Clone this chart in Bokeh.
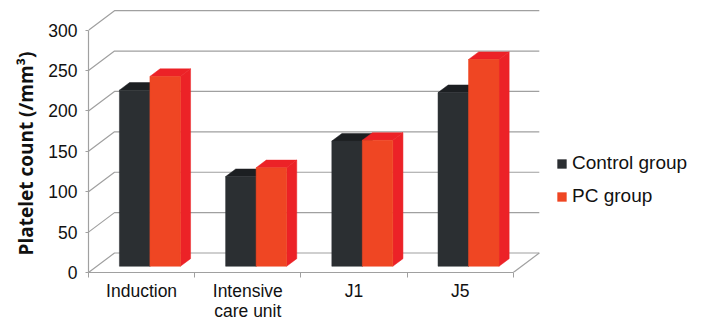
import math
from bokeh.plotting import figure
from bokeh.models import Range1d, FixedTicker, Legend, LegendItem, Title, LinearAxis
from bokeh.embed import file_html
from bokeh.resources import INLINE

categories = ["Induction", "Intensive\ncare unit", "J1", "J5"]
control = [218, 111, 155, 215]
pc = [235, 122, 156, 256]
y_ticks = [0, 50, 100, 150, 200, 250, 300]
series_names = ["Control group", "PC group"]
y_title = "Platelet count (/mm³)"

W, H = 703, 324
left, bottom = 88, 52
frame_w = W - left
frame_h = H - bottom
px_x = 106.2      # pixels per category
px_y = 0.8077     # pixels per value unit
x_start = -0.5
x_end = x_start + frame_w / px_x
y_end = frame_h / px_y

# 3D geometry (in data units)
DX = 26 / px_x
DY = 19.5 / px_y
f_front = 0.32
f_depth = 0.39
bw = 30.5 / px_x
bdx = f_depth * DX
bdy = f_depth * DY
ox = f_front * DX
oy = f_front * DY

p = figure(width=W, height=H, x_range=Range1d(x_start, x_end), y_range=Range1d(0, y_end),
           output_backend="svg", toolbar_location=None,
           min_border_left=left, min_border_right=0, min_border_top=0, min_border_bottom=bottom)
p.outline_line_color = None
p.xgrid.visible = False
p.ygrid.visible = False
p.background_fill_color = "white"
p.border_fill_color = "white"

grid_col = "#a0a0a0"
n = len(categories)
x_last = n - 0.5

# walls / gridlines
xs, ys = [], []
for v in y_ticks:
    xs.append([x_start, x_start + DX, x_last + DX])
    ys.append([v, v + DY, v + DY])
xs.append([x_last, x_last + DX])
ys.append([0, DY])
p.multi_line(xs, ys, line_color=grid_col, line_width=1.2)

colors = [
    ("#2b2f32", "#1c1f22", "#1c1f22"),
    ("#ef4623", "#ec2227", "#ec2227"),
]

legend_rs = []
for s, vals in enumerate([control, pc]):
    front_c, top_c, side_c = colors[s]
    l, r, b, t = [], [], [], []
    for i, v in enumerate(vals):
        x0 = i - bw + s * bw + ox
        x1 = x0 + bw
        y0 = oy
        y1 = v + oy
        p.patch([x1, x1 + bdx, x1 + bdx, x1], [y0, y0 + bdy, y1 + bdy, y1],
                fill_color=side_c, line_color=side_c, line_width=0.5)
        p.patch([x0, x1, x1 + bdx, x0 + bdx], [y1, y1, y1 + bdy, y1 + bdy],
                fill_color=top_c, line_color=top_c, line_width=0.5)
        l.append(x0); r.append(x1); b.append(y0); t.append(y1)
    fr = p.quad(left=l, right=r, bottom=b, top=t, fill_color=front_c, line_color=front_c, line_width=0.5)
    legend_rs.append(fr)

line1 = [c.split("\n")[0] for c in categories]
line2 = [c.split("\n")[1] if "\n" in c else "" for c in categories]

# x axis (first label line + boundary ticks)
xa = p.xaxis[0]
xa.ticker = FixedTicker(ticks=list(range(n)), minor_ticks=[i - 0.5 for i in range(n + 1)])
xa.major_label_overrides = {i: c for i, c in enumerate(line1)}
xa.bounds = (x_start, x_last)
xa.axis_line_color = grid_col
xa.axis_line_width = 1.2
xa.major_tick_out = 0
xa.major_tick_in = 0
xa.minor_tick_out = 5
xa.minor_tick_in = 0
xa.minor_tick_line_color = grid_col
xa.major_label_standoff = 3
xa.major_label_text_font = "Liberation Sans"
xa.major_label_text_font_size = "17.5px"
xa.major_label_text_color = "#111111"

# second label line
xa2 = LinearAxis(ticker=FixedTicker(ticks=list(range(n))),
                 major_label_overrides={i: c for i, c in enumerate(line2)},
                 axis_line_color=None, major_tick_line_color=None, minor_tick_line_color=None,
                 major_tick_out=0, major_tick_in=0, minor_tick_out=0, minor_tick_in=0,
                 major_label_standoff=-3, major_label_text_font="Liberation Sans",
                 major_label_text_font_size="17.5px", major_label_text_color="#111111")
p.add_layout(xa2, "below")

# y axis
ya = p.yaxis[0]
ya.ticker = FixedTicker(ticks=y_ticks)
ya.bounds = (0, 300)
ya.axis_line_color = grid_col
ya.axis_line_width = 1.2
ya.major_tick_line_color = grid_col
ya.major_tick_out = 3
ya.major_tick_in = 0
ya.minor_tick_out = 0
ya.minor_tick_in = 0
ya.major_label_standoff = 8
ya.major_label_text_font = "Liberation Sans"
ya.major_label_text_font_size = "17.5px"
ya.major_label_text_color = "#111111"

title = Title(text=y_title, align="left", offset=17, standoff=14,
              text_font="Open Sans", text_font_style="bold", text_font_size="19px",
              text_color="#111111")
p.add_layout(title, "left")

legend = Legend(items=[LegendItem(label=series_names[k], renderers=[legend_rs[k]]) for k in range(2)],
                location=(468, 65), glyph_width=11, glyph_height=11, label_standoff=5,
                label_height=20, spacing=11, padding=0, margin=0,
                border_line_color=None, background_fill_alpha=0,
                label_text_font="Liberation Sans", label_text_font_size="19px",
                label_text_color="#111111")
p.add_layout(legend)

open("out.html", "w").write(file_html(p, INLINE))
